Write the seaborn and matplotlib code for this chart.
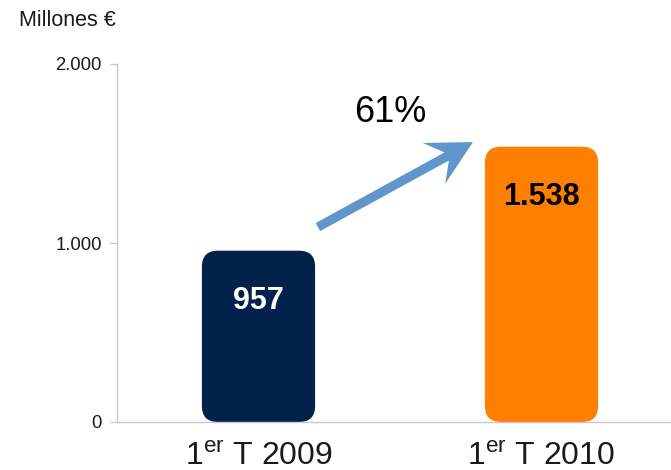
import matplotlib
matplotlib.use("Agg")
import matplotlib.pyplot as plt
from matplotlib.patches import FancyBboxPatch, Polygon
from matplotlib.transforms import IdentityTransform
import numpy as np
import seaborn as sns
import pandas as pd

# Quarterly figures, millions of euros
periods = ["1er T 2009", "1er T 2010"]
period_labels = [r"1$^{\mathrm{er}}$ T 2009", r"1$^{\mathrm{er}}$ T 2010"]
values = [957, 1538]
bar_colors = ["#02224C", "#FF7F00"]
value_text_colors = ["white", "black"]
y_ticks = [0, 1000, 2000]

sns.set_theme(style="white")
plt.rcParams["font.family"] = ["Liberation Sans", "DejaVu Sans"]
plt.rcParams["mathtext.fontset"] = "custom"
plt.rcParams["mathtext.rm"] = "Liberation Sans"
plt.rcParams["mathtext.it"] = "Liberation Sans:italic"
plt.rcParams["mathtext.bf"] = "Liberation Sans:bold"

W, H = 671, 470
fig = plt.figure(figsize=(W / 100, H / 100), dpi=100)
ax = fig.add_axes([117 / W, 1 - 422 / H, 1 - 117 / W, (422 - 64) / H])

df = pd.DataFrame({"periodo": periods, "valor": values})
sns.barplot(data=df, x="periodo", y="valor", hue="periodo",
            palette=bar_colors, width=0.4, legend=False, ax=ax)

ax.set_xlim(-0.5, -0.5 + (W - 117) / 283)
ax.set_ylim(0, 2000)

# Swap the plain bars for rounded ones
px_per_x = 283.0
px_per_y = (422 - 64) / 2000.0
aspect = px_per_x / px_per_y
radius_px = 16
for patch, color in zip(list(ax.patches), bar_colors):
    x0, y0 = patch.get_x(), patch.get_y()
    w, h = patch.get_width(), patch.get_height()
    patch.remove()
    rounded = FancyBboxPatch((x0, y0), w, h,
                             boxstyle=f"round,pad=0,rounding_size={radius_px / px_per_x}",
                             mutation_aspect=aspect, facecolor=color,
                             edgecolor="none", zorder=2)
    ax.add_patch(rounded)

# Value labels inside the bars
for i, (v, tc) in enumerate(zip(values, value_text_colors)):
    ax.text(i, v - 280, f"{v:,}".replace(",", "."),
            ha="center", va="center", fontsize=22, fontweight="bold", color=tc)

# Growth arrow (swept-back head) drawn in pixel space
tail = ax.transData.transform((0.21, values[0] + 132))
tip = ax.transData.transform((0.758, values[1] + 26))
u = (tip - tail) / np.hypot(*(tip - tail))
n = np.array([-u[1], u[0]])
shaft_hw, head_len, head_hw, notch = 4.6, 44.5, 23.3, 30.0
pts = [
    tail + n * shaft_hw,
    tip - u * notch + n * shaft_hw,
    tip - u * head_len + n * head_hw,
    tip,
    tip - u * head_len - n * head_hw,
    tip - u * notch - n * shaft_hw,
    tail - n * shaft_hw,
]
fig.add_artist(Polygon(pts, closed=True, transform=IdentityTransform(),
                       facecolor="#6196CC", edgecolor="none", zorder=3))

growth = round((values[1] / values[0] - 1) * 100)
ax.text(0.466, 1729, f"{growth}%", ha="center", va="center", fontsize=26, color="black")

# Axes styling
ax.set_xlabel("")
ax.set_ylabel("")
ax.set_yticks(y_ticks)
ax.set_yticklabels([f"{t:,}".replace(",", ".") for t in y_ticks], fontsize=13.3, color="#1a1a1a")
ax.set_xticks([0, 1])
ax.set_xticklabels(period_labels, fontsize=23, color="#1a1a1a")
ax.set_xticks([-0.5, 0.5], minor=True)
ax.tick_params(axis="x", which="major", length=0, pad=14)
ax.tick_params(axis="x", which="minor", length=9, width=1, color="#C8C8C8", direction="out")
ax.tick_params(axis="y", length=5, width=1, color="#C8C8C8", direction="out", pad=6, left=True)
for side in ["top", "right"]:
    ax.spines[side].set_visible(False)
for side in ["left", "bottom"]:
    ax.spines[side].set_color("#C8C8C8")
    ax.spines[side].set_linewidth(1)
ax.grid(False)

fig.text(19 / W, 1 - 21 / H, "Millones €", fontsize=15.5, va="center", ha="left", color="#1a1a1a")

fig.savefig("out.png", dpi=100)
